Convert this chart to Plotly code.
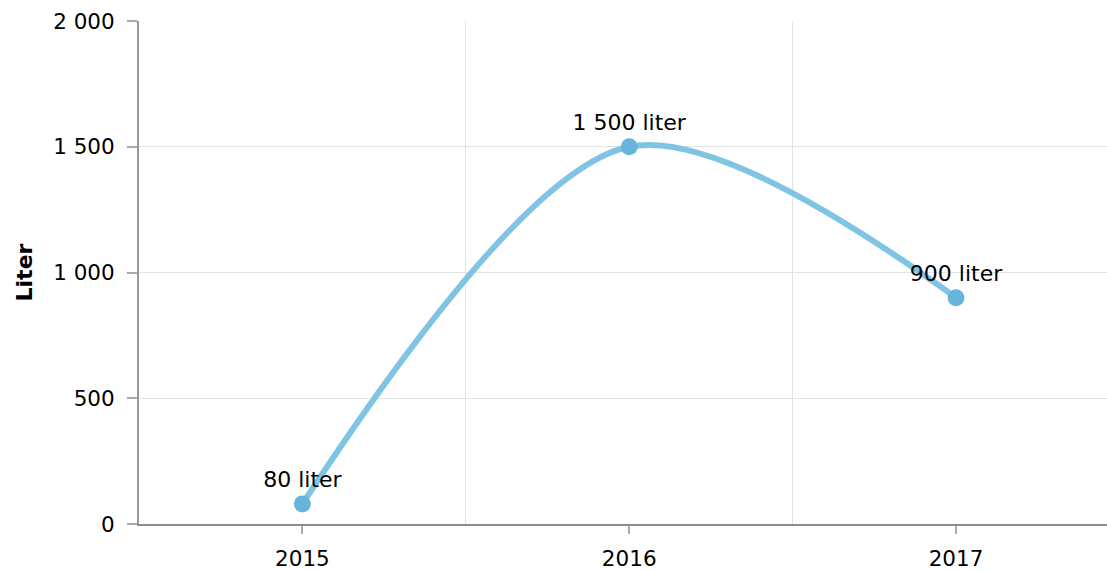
import plotly.graph_objects as go

years = ["2015", "2016", "2017"]
values = [80, 1500, 900]
labels = ["80 liter", "1 500 liter", "900 liter"]
y_ticks = [0, 500, 1000, 1500, 2000]
y_tick_text = ["0", "500", "1 000", "1 500", "2 000"]

xpos = list(range(len(years)))

FONT = "DejaVu Sans, Verdana, sans-serif"

fig = go.Figure()
fig.add_trace(go.Scatter(
    x=xpos, y=values, mode="lines+markers+text",
    line=dict(shape="spline", smoothing=0.9, color="#80c4e4", width=6),
    marker=dict(size=17, color="#66b3db"),
    text=labels, textposition="top center",
    textfont=dict(family=FONT, size=22, color="#000"),
    cliponaxis=False, hoverinfo="skip",
))

axis_font = dict(family=FONT, size=21.5, color="#000")

fig.update_layout(
    width=1107, height=571,
    margin=dict(l=139, r=0, t=21, b=47),
    paper_bgcolor="white", plot_bgcolor="white",
    showlegend=False,
    xaxis=dict(
        range=[-0.5, 2.462], tickvals=xpos, ticktext=years,
        showgrid=False, zeroline=False,
        showline=True, linecolor="#8c8c8c", linewidth=2,
        ticks="outside", ticklen=8, tickwidth=2, tickcolor="#aaaaaa",
        tickfont=axis_font, ticklabelstandoff=6,
        minor=dict(tick0=0.5, dtick=1, showgrid=True, gridcolor="#e3e3e3", gridwidth=1, ticklen=0),
    ),
    yaxis=dict(
        range=[0, 2000], tickvals=y_ticks, ticktext=y_tick_text,
        showgrid=True, gridcolor="#e3e3e3", gridwidth=1, zeroline=False,
        showline=True, linecolor="#999999", linewidth=2,
        ticks="outside", ticklen=10, tickwidth=2, tickcolor="#aaaaaa",
        tickfont=axis_font, ticklabelstandoff=8,
        title=dict(text="<b>Liter</b>", font=dict(family=FONT, size=22, color="#000"), standoff=14),
    ),
)

fig.write_html(
    "out.html",
    config={"displayModeBar": False},
    post_script="document.body.style.margin='0';document.body.style.overflow='hidden';",
)
